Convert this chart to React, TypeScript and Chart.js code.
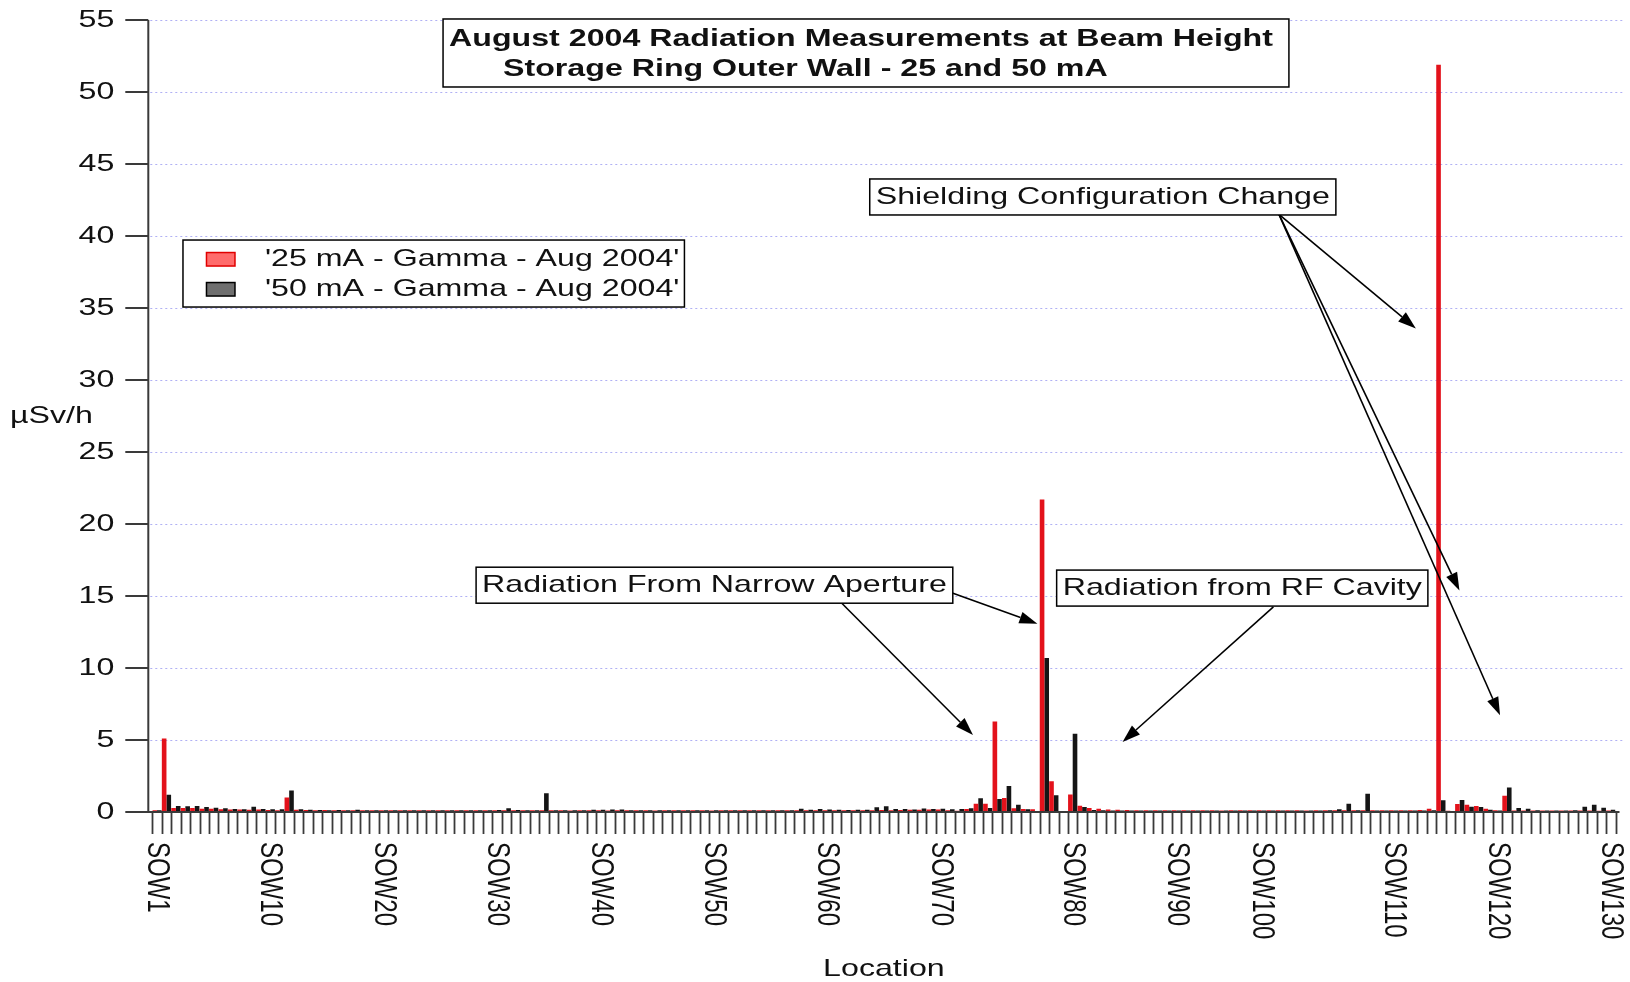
import React, { useEffect, useRef } from 'react';
import { Chart, registerables } from 'chart.js';

Chart.register(...registerables);

// ---------------- data ----------------
const tickLabels = ['SOW1', 'SOW10', 'SOW20', 'SOW30', 'SOW40', 'SOW50', 'SOW60', 'SOW70', 'SOW80', 'SOW90', 'SOW100', 'SOW110', 'SOW120', 'SOW130'];
const tickIndex = [0, 12, 24, 36, 47, 59, 71, 83, 97, 108, 117, 131, 142, 154];

const gamma25 = [
  0.12, 5.1, 0.28, 0.27, 0.28, 0.23, 0.22, 0.19, 0.17, 0.17,
  0.16, 0.17, 0.14, 0.13, 1.0, 0.15, 0.14, 0.13, 0.14, 0.12,
  0.13, 0.13, 0.12, 0.13, 0.12, 0.12, 0.13, 0.12, 0.12, 0.13,
  0.12, 0.12, 0.12, 0.13, 0.12, 0.12, 0.12, 0.12, 0.13, 0.12,
  0.12, 0.13, 0.12, 0.12, 0.11, 0.12, 0.12, 0.12, 0.11, 0.12,
  0.12, 0.12, 0.12, 0.11, 0.12, 0.12, 0.12, 0.12, 0.12, 0.11,
  0.12, 0.12, 0.12, 0.12, 0.12, 0.12, 0.12, 0.12, 0.12, 0.13,
  0.12, 0.12, 0.13, 0.12, 0.12, 0.13, 0.13, 0.14, 0.13, 0.14,
  0.15, 0.15, 0.17, 0.18, 0.12, 0.08, 0.2, 0.58, 0.58, 6.28,
  0.98, 0.26, 0.2, 0.19, 21.7, 2.14, 0.07, 1.21, 0.44, 0.28,
  0.22, 0.17, 0.15, 0.14, 0.13, 0.12, 0.12, 0.12, 0.12, 0.12,
  0.12, 0.12, 0.12, 0.11, 0.12, 0.12, 0.12, 0.12, 0.12, 0.12,
  0.12, 0.12, 0.11, 0.12, 0.12, 0.12, 0.12, 0.12, 0.12, 0.12,
  0.12, 0.12, 0.12, 0.13, 0.14, 0.23, 51.9, 0.08, 0.56, 0.51,
  0.42, 0.23, 0.12, 1.12, 0.1, 0.1, 0.11, 0.1, 0.1, 0.11,
  0.1, 0.1, 0.1, 0.09, 0.1,
];

const gamma50 = [
  0.12, 1.2, 0.42, 0.4, 0.42, 0.35, 0.3, 0.26, 0.2, 0.19,
  0.37, 0.2, 0.19, 0.19, 1.49, 0.19, 0.15, 0.14, 0.13, 0.14,
  0.13, 0.16, 0.13, 0.12, 0.13, 0.12, 0.12, 0.13, 0.12, 0.12,
  0.12, 0.12, 0.13, 0.12, 0.12, 0.13, 0.14, 0.26, 0.14, 0.13,
  0.13, 1.3, 0.13, 0.12, 0.12, 0.13, 0.16, 0.15, 0.17, 0.18,
  0.12, 0.12, 0.12, 0.12, 0.13, 0.12, 0.12, 0.12, 0.12, 0.12,
  0.12, 0.13, 0.12, 0.12, 0.12, 0.13, 0.12, 0.13, 0.23, 0.16,
  0.2, 0.18, 0.15, 0.14, 0.16, 0.15, 0.33, 0.4, 0.2, 0.2,
  0.17, 0.25, 0.2, 0.22, 0.19, 0.21, 0.26, 0.96, 0.28, 0.91,
  1.8, 0.51, 0.19, 0.07, 10.7, 1.16, 0.07, 5.44, 0.35, 0.14,
  0.12, 0.11, 0.1, 0.1, 0.11, 0.1, 0.1, 0.1, 0.11, 0.1,
  0.1, 0.1, 0.11, 0.1, 0.1, 0.1, 0.1, 0.11, 0.1, 0.1,
  0.1, 0.1, 0.11, 0.1, 0.12, 0.19, 0.58, 0.12, 1.26, 0.1,
  0.1, 0.1, 0.1, 0.1, 0.1, 0.12, 0.81, 0.07, 0.84, 0.37,
  0.35, 0.16, 0.1, 1.7, 0.28, 0.23, 0.12, 0.1, 0.11, 0.1,
  0.12, 0.37, 0.51, 0.3, 0.16,
];

const categories = gamma25.map((_, i) => {
  const j = tickIndex.indexOf(i);
  return j >= 0 ? tickLabels[j] : '';
});

const seriesLabels = ["'25 mA - Gamma - Aug 2004'", "'50 mA - Gamma - Aug 2004'"];
const titleLines = ['August 2004 Radiation Measurements at Beam Height', 'Storage Ring Outer Wall - 25 and 50 mA'];

// annotation boxes, placed in data coordinates (category index, µSv/h)
const notes = [
  {
    text: 'Shielding Configuration Change', x: 75.5, y: 43.96,
    arrows: [[118.85, 41.5, 133.35, 33.58], [118.85, 41.5, 137.97, 15.38], [118.85, 41.5, 142.27, 6.72]],
  },
  {
    text: 'Radiation From Narrow Aperture', x: 33.8, y: 17.0,
    arrows: [[84.1, 15.24, 93.26, 13.08], [72.54, 14.5, 86.44, 5.35]],
  },
  {
    text: 'Radiation from RF Cavity', x: 95.3, y: 16.8,
    arrows: [[118.26, 14.24, 102.28, 4.86]],
  },
];
const titleAnchor = { x: 30.3, y: 55.07 };
const legendAnchor = { x: 2.75, y: 39.72 };

// ---------------- styles ----------------
const FAMILY = '"Liberation Sans", Arial, Helvetica, sans-serif';
const FS = 24;
const SX = 1.34;
const LINE_H = 30;
const PAD_V = 3;
const RED = '#e3121b';
const BLACK = '#151515';
const TEXT = '#111';

function drawText(ctx: any, text: string, x: number, y: number, font: string, align: string = 'left') {
  ctx.save();
  ctx.translate(x, y);
  ctx.scale(SX, 1);
  ctx.font = font;
  ctx.textAlign = align;
  ctx.textBaseline = 'middle';
  ctx.fillStyle = TEXT;
  ctx.fillText(text, 0, 0);
  ctx.restore();
}

function textWidth(ctx: any, text: string, font: string) {
  ctx.save();
  ctx.font = font;
  const w = ctx.measureText(text).width * SX;
  ctx.restore();
  return w;
}

function drawArrow(ctx: any, x1: number, y1: number, x2: number, y2: number) {
  const ang = Math.atan2(y2 - y1, x2 - x1);
  const L = 18;
  const W = 6;
  const bx = x2 - L * Math.cos(ang);
  const by = y2 - L * Math.sin(ang);
  ctx.save();
  ctx.strokeStyle = '#000';
  ctx.fillStyle = '#000';
  ctx.lineWidth = 1.6;
  ctx.beginPath();
  ctx.moveTo(x1, y1);
  ctx.lineTo(bx, by);
  ctx.stroke();
  ctx.beginPath();
  ctx.moveTo(x2, y2);
  ctx.lineTo(bx + W * Math.sin(ang), by - W * Math.cos(ang));
  ctx.lineTo(bx - W * Math.sin(ang), by + W * Math.cos(ang));
  ctx.closePath();
  ctx.fill();
  ctx.restore();
}

function drawFrame(ctx: any, left: number, top: number, w: number, h: number) {
  ctx.save();
  ctx.fillStyle = '#fff';
  ctx.fillRect(left, top, w, h);
  ctx.strokeStyle = '#000';
  ctx.lineWidth = 1.5;
  ctx.strokeRect(left, top, w, h);
  ctx.restore();
}

const overlayPlugin = {
  id: 'overlay',
  beforeDatasetsDraw(chart: any) {
    const { ctx, chartArea: a, scales } = chart;
    const y = scales.y;
    ctx.save();
    ctx.strokeStyle = 'rgba(150,150,240,0.75)';
    ctx.lineWidth = 1;
    ctx.setLineDash([2, 3]);
    y.ticks.forEach((t: any) => {
      if (t.value === 0) return;
      const py = Math.round(y.getPixelForValue(t.value)) + 0.5;
      ctx.beginPath();
      ctx.moveTo(a.left - 2, py);
      ctx.lineTo(a.right + 8, py);
      ctx.stroke();
    });
    ctx.restore();
  },
  afterDraw(chart: any) {
    const { ctx, chartArea: a, scales } = chart;
    const x = scales.x;
    const y = scales.y;
    const font = `${FS}px ${FAMILY}`;
    const bold = `bold ${FS}px ${FAMILY}`;
    const axisX = a.left - 4;

    // axes
    ctx.save();
    ctx.strokeStyle = '#3a3a3a';
    ctx.lineWidth = 2;
    ctx.beginPath();
    ctx.moveTo(axisX, y.getPixelForValue(y.max));
    ctx.lineTo(axisX, a.bottom + 1);
    ctx.moveTo(axisX - 1, a.bottom);
    ctx.lineTo(a.right + 4, a.bottom);
    ctx.stroke();

    // y ticks
    y.ticks.forEach((t: any) => {
      const py = y.getPixelForValue(t.value);
      ctx.beginPath();
      ctx.moveTo(axisX - 23, py);
      ctx.lineTo(axisX, py);
      ctx.stroke();
      drawText(ctx, String(t.value), a.left - 38, py, font, 'right');
    });

    // x tick marks at category boundaries
    ctx.lineWidth = 1.8;
    for (let k = 0; k <= categories.length; k++) {
      const px = Math.round(x.getPixelForValue(k - 0.5)) + 0.5;
      ctx.beginPath();
      ctx.moveTo(px, a.bottom + 1);
      ctx.lineTo(px, a.bottom + 22);
      ctx.stroke();
    }
    ctx.restore();

    // x labels (rotated clockwise)
    tickIndex.forEach((idx, j) => {
      const px = x.getPixelForValue(idx);
      ctx.save();
      ctx.translate(px, a.bottom + 30);
      ctx.scale(SX, 1);
      ctx.rotate(Math.PI / 2);
      ctx.font = font;
      ctx.textAlign = 'left';
      ctx.textBaseline = 'middle';
      ctx.fillStyle = TEXT;
      ctx.fillText(tickLabels[j], 0, 0);
      ctx.restore();
    });

    // axis titles
    drawText(ctx, 'Location', (a.left + a.right) / 2, a.bottom + 157, font, 'center');
    drawText(ctx, 'µSv/h', 10, (a.top + a.bottom) / 2, font, 'left');

    // title box
    {
      const left = x.getPixelForValue(titleAnchor.x);
      const top = y.getPixelForValue(titleAnchor.y);
      const indents = [0, 54];
      const w = Math.max(...titleLines.map((l, i) => textWidth(ctx, l, bold) + indents[i])) + 6 + 16;
      const h = titleLines.length * LINE_H + 2 * PAD_V + 2;
      drawFrame(ctx, left, top, w, h);
      titleLines.forEach((l, i) => drawText(ctx, l, left + 6 + indents[i], top + PAD_V + 2 + LINE_H * (i + 0.5), bold));
    }

    // legend box
    {
      const left = x.getPixelForValue(legendAnchor.x);
      const top = y.getPixelForValue(legendAnchor.y);
      const w = 82 + Math.max(...seriesLabels.map((l) => textWidth(ctx, l, font))) + 5;
      const h = seriesLabels.length * LINE_H + 2 * PAD_V + 1;
      drawFrame(ctx, left, top, w, h);
      const swatch = [
        { fill: '#ff6c6c', stroke: '#e00000' },
        { fill: '#6f6f6f', stroke: '#000' },
      ];
      seriesLabels.forEach((l, i) => {
        const cy = top + PAD_V + 1 + LINE_H * (i + 0.5);
        ctx.save();
        ctx.fillStyle = swatch[i].fill;
        ctx.strokeStyle = swatch[i].stroke;
        ctx.lineWidth = 1.5;
        ctx.fillRect(left + 23.5, cy - 6.5, 28.5, 13.5);
        ctx.strokeRect(left + 23.5, cy - 6.5, 28.5, 13.5);
        ctx.restore();
        drawText(ctx, l, left + 82, cy, font);
      });
    }

    // annotations
    notes.forEach((n) => {
      n.arrows.forEach((ar) => {
        drawArrow(ctx, x.getPixelForValue(ar[0]), y.getPixelForValue(ar[1]), x.getPixelForValue(ar[2]), y.getPixelForValue(ar[3]));
      });
      const left = x.getPixelForValue(n.x);
      const top = y.getPixelForValue(n.y);
      const w = textWidth(ctx, n.text, font) + 12;
      const h = LINE_H + 2 * PAD_V;
      drawFrame(ctx, left, top, w, h);
      drawText(ctx, n.text, left + 6, top + PAD_V + LINE_H / 2, font);
    });
  },
};

export default function App() {
  const canvasRef = useRef<HTMLCanvasElement | null>(null);

  useEffect(() => {
    const canvas = canvasRef.current;
    if (!canvas) return;
    const chart = new Chart(canvas, {
      type: 'bar',
      data: {
        labels: categories,
        datasets: [
          { label: seriesLabels[0], data: gamma25, backgroundColor: RED, borderWidth: 0, barPercentage: 1, categoryPercentage: 0.98 },
          { label: seriesLabels[1], data: gamma50, backgroundColor: BLACK, borderWidth: 0, barPercentage: 1, categoryPercentage: 0.98 },
        ],
      },
      options: {
        responsive: false,
        maintainAspectRatio: false,
        animation: false,
        devicePixelRatio: 1,
        layout: { padding: { left: 0, top: 20, right: 14.5, bottom: 0 } },
        plugins: { legend: { display: false }, tooltip: { enabled: false }, title: { display: false } },
        scales: {
          x: {
            type: 'category',
            offset: true,
            grid: { display: false },
            border: { display: false },
            ticks: { display: false, autoSkip: false },
            afterFit: (s: any) => { s.height = 170; },
          },
          y: {
            min: 0,
            max: 55,
            ticks: { display: false, stepSize: 5 },
            grid: { display: false },
            border: { display: false },
            afterFit: (s: any) => { s.width = 152.3; },
          },
        },
      },
      plugins: [overlayPlugin],
    } as any);
    return () => chart.destroy();
  }, []);

  return (
    <div style={{ position: 'fixed', left: 0, top: 0, width: 1630, height: 982, background: '#fff' }}>
      <canvas ref={canvasRef} width={1630} height={982} style={{ display: 'block' }} />
    </div>
  );
}
